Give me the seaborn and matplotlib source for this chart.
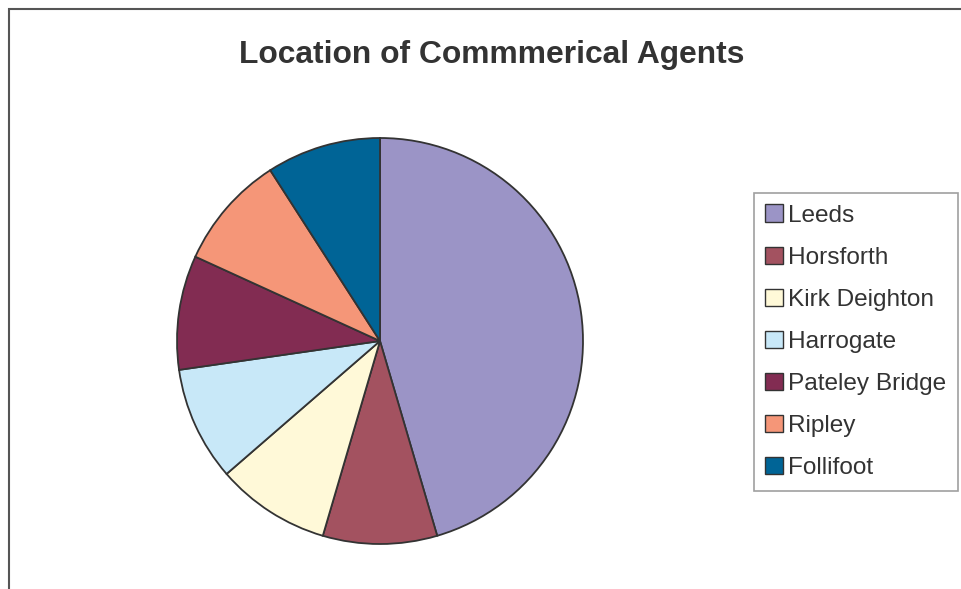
import matplotlib
matplotlib.use("Agg")
import matplotlib.pyplot as plt
from matplotlib.patches import Patch, Rectangle
import seaborn as sns

# data
locations = ["Leeds", "Horsforth", "Kirk Deighton", "Harrogate",
             "Pateley Bridge", "Ripley", "Follifoot"]
agents = [5, 1, 1, 1, 1, 1, 1]
slice_colors = ["#9B94C6", "#A35260", "#FFF9D8", "#C8E8F8",
                "#822C52", "#F59678", "#006496"]
title = "Location of Commmerical Agents"

sns.set_theme(style="white")
plt.rcParams["font.family"] = ["Liberation Sans", "DejaVu Sans"]

W, H = 961, 589
fig = plt.figure(figsize=(W / 100, H / 100), dpi=100)

# outer chart frame (right and bottom edges fall off the image)
fig.patches.append(Rectangle((9 / W, -0.05), 1.1, 1 - 9 / H + 0.05,
                             transform=fig.transFigure, fill=False,
                             edgecolor="#555555", linewidth=1.5))

# pie axes: centre ~ (380, 341), radius ~ 203 px
cx, cy, r = 380, 341, 203
ax = fig.add_axes([(cx - r) / W, (H - cy - r) / H, 2 * r / W, 2 * r / H])
palette = sns.color_palette(slice_colors)
ax.pie(agents, colors=palette, startangle=90, counterclock=False,
       wedgeprops=dict(edgecolor="#333333", linewidth=1.3))
ax.set_xlim(-1, 1)
ax.set_ylim(-1, 1)
ax.set_aspect("equal")
ax.axis("off")

fig.text(492 / W, 1 - 55 / H, title, ha="center", va="center",
         fontsize=22.9, fontweight="bold", color="#333333")

handles = [Patch(facecolor=c, edgecolor="#333333", linewidth=1.0, label=l)
           for c, l in zip(palette, locations)]
leg = fig.legend(handles=handles, loc="upper left",
                 bbox_to_anchor=(754 / W, 1 - 193 / H),
                 fontsize=17.6, frameon=True, fancybox=False,
                 edgecolor="#888888", handlelength=0.72, handleheight=0.72,
                 handletextpad=0.22, labelspacing=0.81, borderpad=0.47,
                 borderaxespad=0)
leg.get_frame().set_linewidth(1.2)
for t in leg.get_texts():
    t.set_color("#333333")

fig.savefig("out.png", dpi=100)
